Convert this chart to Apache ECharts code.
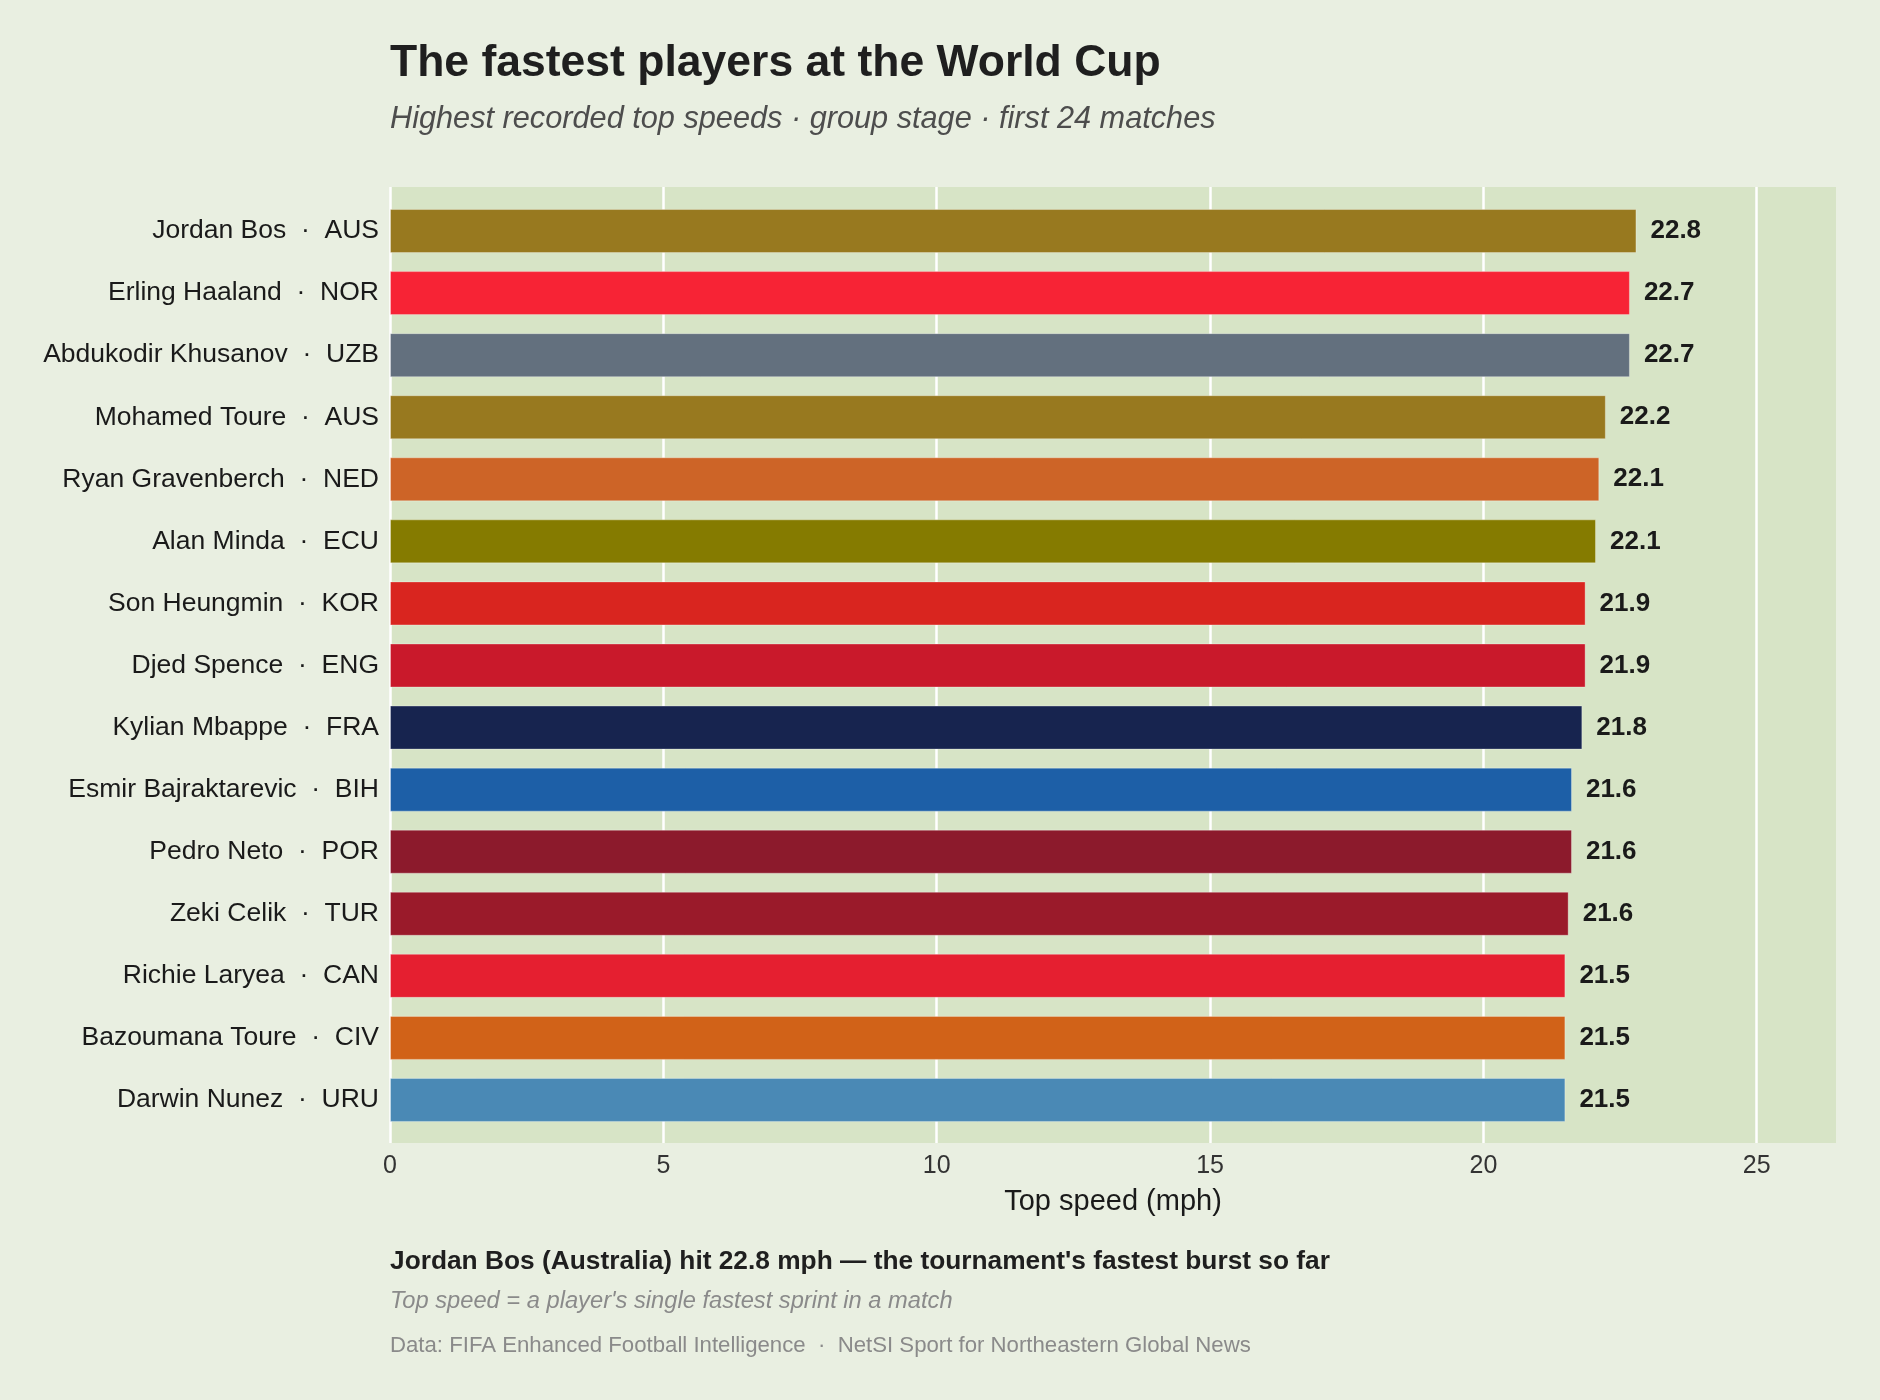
<!DOCTYPE html>
<html>
<head>
<meta charset="utf-8">
<script src="https://cdn.jsdelivr.net/npm/echarts@6/dist/echarts.min.js"></script>
<style>
  html, body { margin: 0; padding: 0; background: #e9efe1; }
  #chart { width: 1880px; height: 1400px; }
</style>
</head>
<body>
<div id="chart"></div>
<script>
// data
const players = ['Jordan Bos', 'Erling Haaland', 'Abdukodir Khusanov', 'Mohamed Toure', 'Ryan Gravenberch',
  'Alan Minda', 'Son Heungmin', 'Djed Spence', 'Kylian Mbappe', 'Esmir Bajraktarevic',
  'Pedro Neto', 'Zeki Celik', 'Richie Laryea', 'Bazoumana Toure', 'Darwin Nunez']
const teams = ['AUS', 'NOR', 'UZB', 'AUS', 'NED', 'ECU', 'KOR', 'ENG', 'FRA', 'BIH', 'POR', 'TUR', 'CAN', 'CIV', 'URU']
const topSpeeds = [22.80, 22.68, 22.68, 22.24, 22.12, 22.06, 21.87, 21.87, 21.81, 21.62, 21.62, 21.56, 21.50, 21.50, 21.50]
const teamColors = ['#98791f', '#f72335', '#63707e', '#98791f', '#cd6427', '#857b00', '#d9251f', '#c9192b',
  '#17244f', '#1d5fa7', '#8c1a2c', '#9a1a2a', '#e51f30', '#d16218', '#4a89b5']
const xTicks = [0, 5, 10, 15, 20, 25]

const FONT = '"Liberation Sans", Arial, Helvetica, sans-serif'
const labels = players.map((p, i) => p + '  ·  ' + teams[i])
const xMax = 26.45

const chart = echarts.init(document.getElementById('chart'))
chart.setOption({
  backgroundColor: '#e9efe1',
  animation: false,
  textStyle: { fontFamily: FONT },
  grid: [
    // background panel + gridlines
    { left: 390, right: 44, top: 187, bottom: 257, show: true, backgroundColor: '#d7e4c6', borderWidth: 0 },
    // bars
    { left: 390, right: 44, top: 200, bottom: 269 },
  ],
  xAxis: [{
    gridIndex: 0,
    type: 'value',
    min: 0,
    max: xMax,
    interval: 5,
    name: 'Top speed (mph)',
    nameLocation: 'middle',
    nameGap: 44,
    nameTextStyle: { fontSize: 29, color: '#1a1a1a', fontFamily: FONT },
    axisLine: { show: false },
    axisTick: { show: false },
    axisLabel: {
      fontSize: 25,
      color: '#333',
      margin: 11,
      showMaxLabel: false,
      formatter: function (v) {
        return xTicks.indexOf(v) >= 0 ? String(v) : ''
      },
    },
    splitLine: { show: true, showMaxLine: false, lineStyle: { color: '#ffffff', width: 2.5 } },
  }, {
    gridIndex: 1,
    type: 'value',
    min: 0,
    max: xMax,
    show: false,
    splitLine: { show: false },
  }],
  yAxis: [{
    gridIndex: 0,
    type: 'category',
    data: [],
    show: false,
  }, {
    gridIndex: 1,
    type: 'category',
    data: labels,
    inverse: true,
    axisLine: { show: false },
    axisTick: { show: false },
    splitLine: { show: false },
    axisLabel: { fontSize: 26.5, color: '#1a1a1a', margin: 11, fontFamily: FONT, padding: [8, 0, 0, 0] },
  }],
  series: [{
    type: 'bar',
    xAxisIndex: 1,
    yAxisIndex: 1,
    barWidth: 44,
    data: topSpeeds.map((v, i) => ({
      value: v,
      itemStyle: { color: teamColors[i] },
    })),
    itemStyle: { borderColor: 'rgba(255,255,255,0.3)', borderWidth: 1 },
    label: {
      show: true,
      position: 'right',
      distance: 14,
      fontSize: 26,
      fontWeight: 'bold',
      color: '#1a1a1a',
      fontFamily: FONT,
      padding: [6, 0, 0, 0],
      formatter: function (p) {
        return p.value.toFixed(1)
      },
    },
  }],
  graphic: [
    { type: 'text', x: 390, y: 64, style: { text: 'The fastest players at the World Cup', font: 'bold 44.5px ' + FONT, fill: '#1f1f1f', verticalAlign: 'middle' } },
    { type: 'text', x: 390, y: 119, style: { text: 'Highest recorded top speeds · group stage · first 24 matches', font: 'italic 30.7px ' + FONT, fill: '#4d4d4d', verticalAlign: 'middle' } },
    { type: 'text', x: 390, y: 1262, style: { text: "Jordan Bos (Australia) hit 22.8 mph \u2014 the tournament's fastest burst so far", font: 'bold 26.3px ' + FONT, fill: '#1f1f1f', verticalAlign: 'middle' } },
    { type: 'text', x: 390, y: 1301, style: { text: "Top speed = a player's single fastest sprint in a match", font: 'italic 23.7px ' + FONT, fill: '#8a8a8a', verticalAlign: 'middle' } },
    { type: 'text', x: 390, y: 1346, style: { text: 'Data: FIFA Enhanced Football Intelligence  ·  NetSI Sport for Northeastern Global News', font: '22.2px ' + FONT, fill: '#8a8a8a', verticalAlign: 'middle' } },
  ],
})
</script>
</body>
</html>
